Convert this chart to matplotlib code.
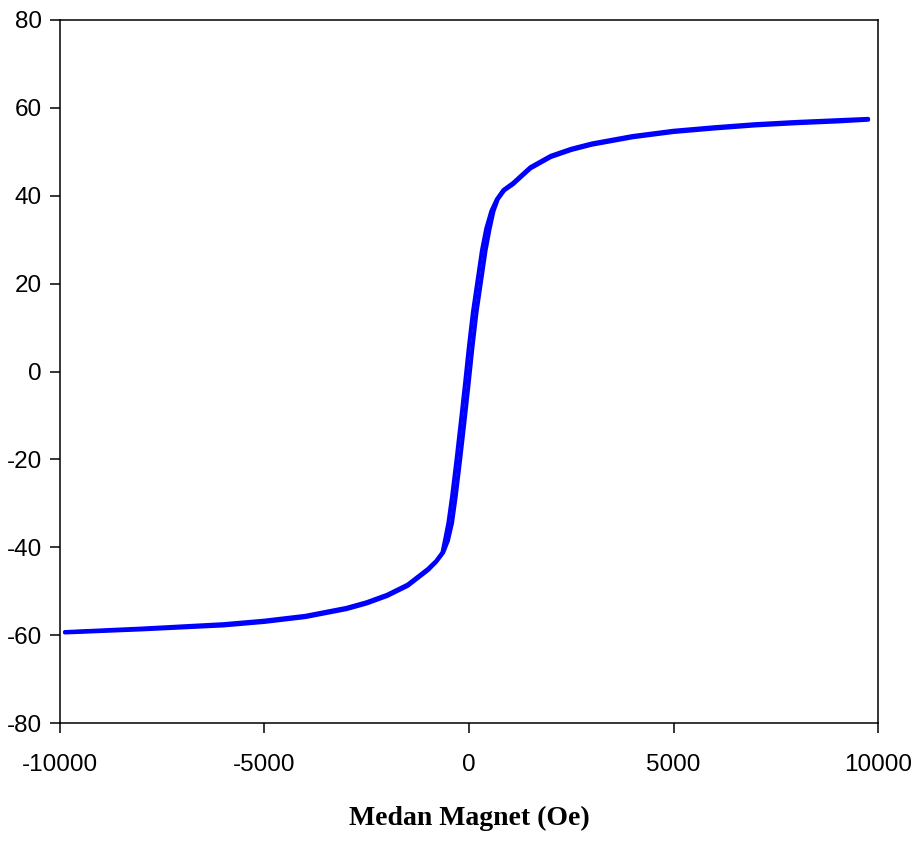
import matplotlib
matplotlib.use("Agg")
import matplotlib.pyplot as plt

# Ascending branch (field increasing)
h_up = [-9880, -8000, -6000, -5000, -4000, -3000, -2500, -2000, -1500, -1000,
        -800, -630, -515, -415, -325, -215, -105, -5, 85, 185, 295, 405,
        505, 600, 705, 860, 1076, 1300, 1500, 2000, 2500, 3000, 4000, 5000,
        6000, 7000, 8000, 9000, 9760]
m_up = [-59.4, -58.7, -57.8, -57.0, -55.9, -54.1, -52.8, -51.1, -48.8, -45.2,
        -43.3, -41.2, -38.5, -34.5, -28.5, -20.0, -11.0, -2.5, 5.5, 13.5, 20.5, 27.5,
        32.5, 36.5, 39.2, 41.2, 42.6, 44.5, 46.2, 48.8, 50.4, 51.6, 53.3, 54.5,
        55.3, 56.0, 56.5, 56.9, 57.3]

# Descending branch (field decreasing)
h_down = [9760, 9000, 8000, 7000, 6000, 5000, 4000, 3000, 2500, 2000, 1500,
          1300, 1076, 840, 680, 545, 420, 315, 205, 95, -5, -95, -195, -305,
          -415, -505, -590, -650, -800, -1000, -1500, -2000, -2500, -3000,
          -4000, -5000, -6000, -8000, -9880]
m_down = [57.5, 57.2, 56.8, 56.3, 55.6, 54.8, 53.6, 51.9, 50.7, 49.1, 46.5,
          44.8, 42.9, 41.3, 39.2, 36.5, 32.5, 27.5, 20.5, 13.5, 5.5, -2.5, -11.0, -20.0,
          -28.5, -34.5, -38.5, -41.2, -43.1, -44.9, -48.5, -50.8, -52.5, -53.8,
          -55.6, -56.7, -57.5, -58.5, -59.3]

x_ticks = [-10000, -5000, 0, 5000, 10000]
y_ticks = [-80, -60, -40, -20, 0, 20, 40, 60, 80]
x_label = "Medan Magnet (Oe)"

fig = plt.figure(figsize=(9.15, 8.43), dpi=100)
ax = fig.add_axes([60/915, 120/843, 818/915, 703/843])

ax.plot(h_up, m_up, color="#0000FF", lw=2.9, solid_capstyle="round", solid_joinstyle="round")
ax.plot(h_down, m_down, color="#0000FF", lw=2.9, solid_capstyle="round", solid_joinstyle="round")

ax.set_xlim(-10000, 10000)
ax.set_ylim(-80, 80)
ax.set_xticks(x_ticks)
ax.set_yticks(y_ticks)
ax.set_xticklabels([str(v) for v in x_ticks], family="Liberation Sans", fontsize=17.5)
ax.set_yticklabels([str(v) for v in y_ticks], family="Liberation Sans", fontsize=17.5)
ax.tick_params(direction="out", length=7, width=1.1, colors="black")
ax.tick_params(axis="x", pad=15)
ax.tick_params(axis="y", pad=6)
for s in ax.spines.values():
    s.set_linewidth(1.1)
ax.set_xlabel(x_label, family="Liberation Serif", fontweight="bold", fontsize=20, labelpad=22)

fig.savefig("out.png", dpi=100)
